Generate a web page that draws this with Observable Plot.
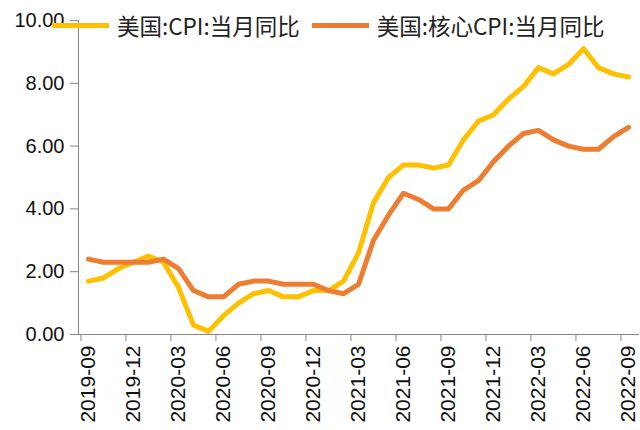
<!DOCTYPE html>
<html><head><meta charset="utf-8">
<script src="https://cdn.jsdelivr.net/npm/d3@7"></script>
<script src="https://cdn.jsdelivr.net/npm/@observablehq/plot@0.6"></script>
<style>
body{margin:0;background:#fff;}
#wrap{position:relative;width:640px;height:430px;overflow:hidden;}
#legend{position:absolute;top:9px;left:52px;display:flex;align-items:center;font-family:"Noto Sans CJK SC","Liberation Sans",sans-serif;font-size:22.5px;color:#222;white-space:nowrap;}
.sw{display:inline-block;width:57px;height:5px;margin-right:8px;}
</style></head>
<body><div id="wrap"><div id="legend"></div></div>
<script>
const months = ["2019-09","2019-10","2019-11","2019-12","2020-01","2020-02","2020-03","2020-04","2020-05","2020-06","2020-07","2020-08","2020-09","2020-10","2020-11","2020-12","2021-01","2021-02","2021-03","2021-04","2021-05","2021-06","2021-07","2021-08","2021-09","2021-10","2021-11","2021-12","2022-01","2022-02","2022-03","2022-04","2022-05","2022-06","2022-07","2022-08","2022-09"];
const cpi = [1.7,1.8,2.1,2.3,2.5,2.3,1.5,0.3,0.1,0.6,1.0,1.3,1.4,1.2,1.2,1.4,1.4,1.7,2.6,4.2,5.0,5.4,5.4,5.3,5.4,6.2,6.8,7.0,7.5,7.9,8.5,8.3,8.6,9.1,8.5,8.3,8.2];
const core = [2.4,2.3,2.3,2.3,2.3,2.4,2.1,1.4,1.2,1.2,1.6,1.7,1.7,1.6,1.6,1.6,1.4,1.3,1.6,3.0,3.8,4.5,4.3,4.0,4.0,4.6,4.9,5.5,6.0,6.4,6.5,6.2,6.0,5.9,5.9,6.3,6.6];
const tickLabels = ["2019-09","2019-12","2020-03","2020-06","2020-09","2020-12","2021-03","2021-06","2021-09","2021-12","2022-03","2022-06","2022-09"];
const yTicks = [0,2,4,6,8,10];
const seriesNames = ["美国:CPI:当月同比","美国:核心CPI:当月同比"];
const colors = ["#FFC000","#ED7D31"];

const W = 640, H = 430, mL = 78, mR = 2, mT = 20, mB = 96;
const step = (W - mL - mR) / months.length;
const rows = s => months.map((m, i) => ({m, v: s[i]}));

const chart = Plot.plot({
  width: W, height: H, marginLeft: mL, marginRight: mR, marginTop: mT, marginBottom: mB,
  x: {type: "point", domain: months, padding: 0.5},
  y: {domain: [0, 10]},
  style: {fontFamily: "'Liberation Sans', Arial, sans-serif", fontSize: "20px", color: "#111", background: "#fff"},
  marks: [
    Plot.axisY({ticks: yTicks, tickFormat: d3.format(".2f"), tickSize: 8, tickPadding: 6, stroke: "#888", fontSize: 20, label: null}),
    Plot.frame({anchor: "left", stroke: "#888"}),
    Plot.frame({anchor: "bottom", stroke: "#888"}),
    Plot.axisX({ticks: tickLabels, tickSize: 7, tickFormat: () => "", dx: -step / 2, stroke: "#888", label: null}),
    Plot.axisX({ticks: tickLabels, tickSize: 0, tickPadding: 11, tickRotate: -90, fontSize: 21, label: null}),
    Plot.line(rows(cpi), {x: "m", y: "v", stroke: colors[0], strokeWidth: 5}),
    Plot.line(rows(core), {x: "m", y: "v", stroke: colors[1], strokeWidth: 5})
  ]
});
const wrap = document.getElementById("wrap");
wrap.insertBefore(chart, wrap.firstChild);
const lg = document.getElementById("legend");
seriesNames.forEach((n, i) => {
  const it = document.createElement("span");
  it.style.display = "inline-flex"; it.style.alignItems = "center"; it.style.marginRight = "12px";
  it.innerHTML = `<span class="sw" style="background:${colors[i]}"></span>${n}`;
  lg.appendChild(it);
});
</script></body></html>
